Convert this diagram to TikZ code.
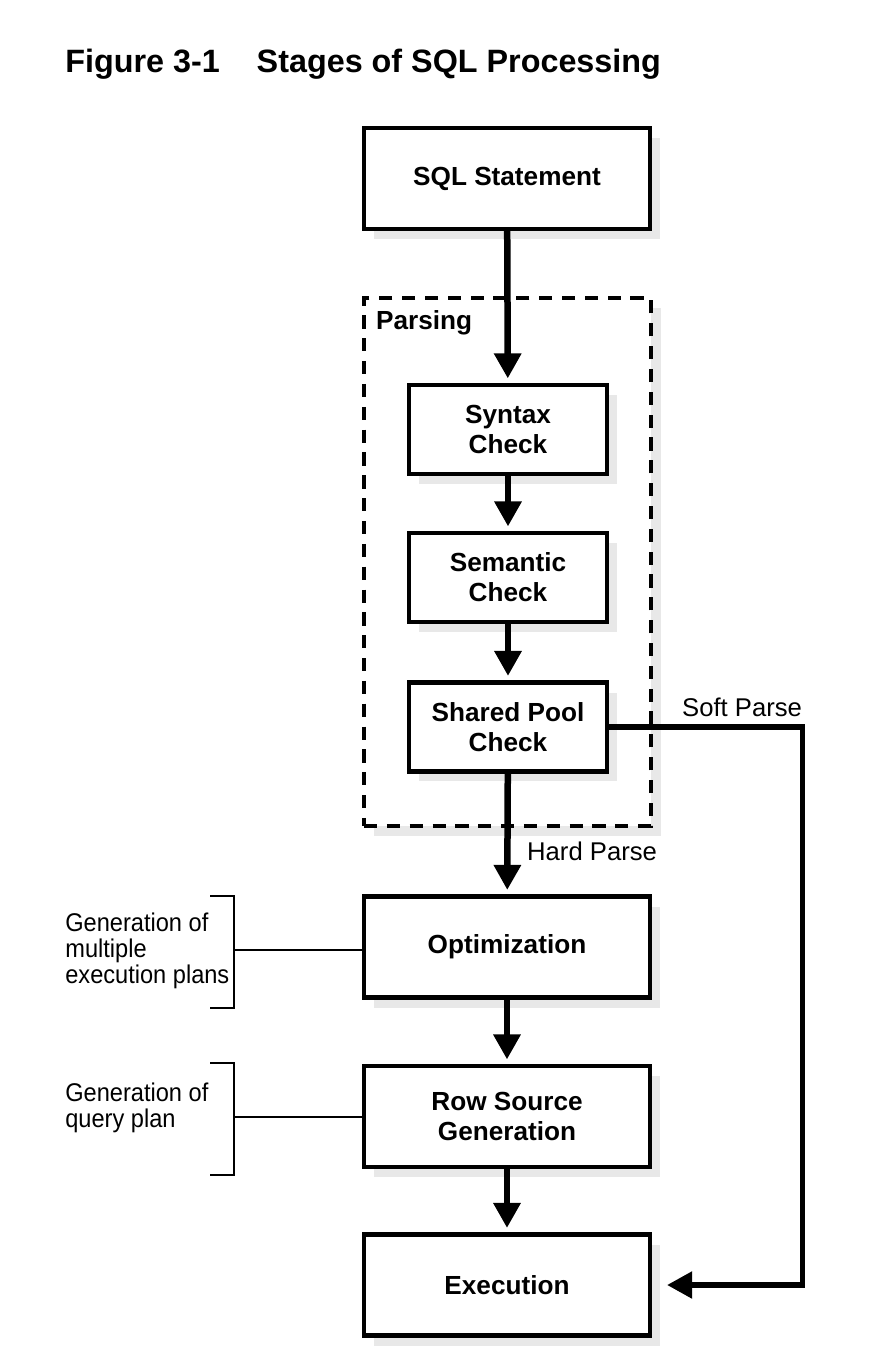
\documentclass[tikz,border=0pt]{standalone}
\usepackage{fontspec}
\setmainfont{Liberation Sans}
\newfontfamily\notefont[FakeStretch=0.92]{Liberation Sans}
\usetikzlibrary{arrows.meta,shadows}
\begin{document}
\begin{tikzpicture}[x=0.02cm,y=-0.02cm,
    shadowed/.style = {drop shadow={shadow xshift=0.2cm,shadow yshift=-0.2cm,fill=black!9,opacity=1}},
    box/.style = {draw,line width=2.5pt,fill=white,shadowed,minimum width=5.72cm,minimum height=2.02cm,
                  align=center,font=\fontsize{14.9}{17}\selectfont\bfseries},
    check/.style = {box,minimum width=3.96cm,minimum height=1.78cm},
    arrow/.style = {line width=3.7pt,-{Triangle[width=0.52cm,length=0.5cm]},shorten >=2.5pt},
    note/.style = {font=\notefont\fontsize{14.6}{15}\selectfont,align=left,inner sep=0pt}]
    \useasboundingbox (0,0) rectangle (894,1362);

    % title
    \node [anchor=base west,inner sep=0pt,font=\fontsize{18.4}{22}\selectfont\bfseries] (title) at (65,73)
        {Figure 3-1\hspace{21pt}Stages of SQL Processing};

    % parsing frame
    \node [draw,fill=white,shadowed,line width=2.6pt,dash pattern=on 7.5pt off 5.5pt,
           minimum width=5.74cm,minimum height=10.56cm] (parsing) at (507.5,562) {};
    \node [anchor=west,font=\fontsize{14.9}{17}\selectfont\bfseries] (parsinglabel) at (370,323) {Parsing};

    % stages
    \node [box] (sql) at (507,178.5) {SQL Statement};
    \node [check] (syntax) at (508,429.5) {Syntax\\Check};
    \node [check] (semantic) at (508,577.5) {Semantic\\Check};
    \node [check] (shared) at (508,727) {Shared Pool\\Check};
    \node [box] (opt) at (507,947) {Optimization};
    \node [box] (rowsource) at (507,1116.5) {Row Source\\Generation};
    \node [box] (exec) at (507,1285) {Execution};

    \draw[arrow] (sql) -- (syntax);
    \draw[arrow] (syntax) -- (semantic);
    \draw[arrow] (semantic) -- (shared);
    \draw[arrow] (shared) -- (opt);
    \draw[arrow] (opt) -- (rowsource);
    \draw[arrow] (rowsource) -- (exec);

    % soft parse shortcut
    \draw[line width=3pt,-{Triangle[width=0.52cm,length=0.5cm]},shorten >=8.5pt]
        (shared.east) -- ++(193,0) |- (exec.east);
    \node [anchor=west,font=\fontsize{14.6}{15}\selectfont] (soft) at (676,707) {Soft Parse};
    \node [anchor=west,font=\fontsize{14.6}{15}\selectfont] (hard) at (521,851) {Hard Parse};

    % side notes
    \coordinate (opttick) at (234,950);
    \coordinate (rowtick) at (234,1117);
    \draw[line width=1.2pt] (210,896) -- (234,896) -- (234,1008) -- (210,1008);
    \draw[line width=1.2pt] (opttick) -- (opttick -| opt.west);
    \draw[line width=1.2pt] (210,1063) -- (234,1063) -- (234,1175) -- (210,1175);
    \draw[line width=1.2pt] (rowtick) -- (rowtick -| rowsource.west);
    \node [note,anchor=west] (optnote) at (65,951) {Generation of\\multiple\\execution plans};
    \node [note,anchor=west] (rownote) at (65,1108) {Generation of\\query plan};
\end{tikzpicture}
\end{document}
